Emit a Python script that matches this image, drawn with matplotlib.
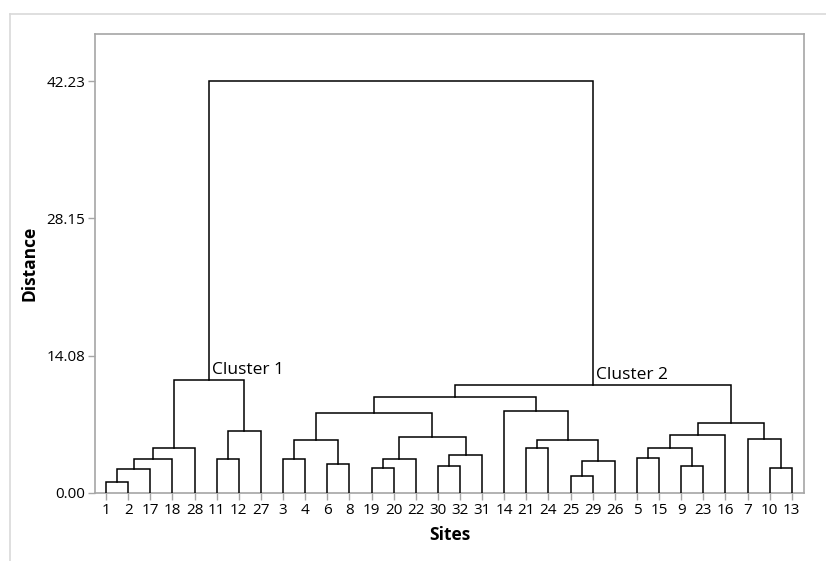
import matplotlib.pyplot as plt
from matplotlib.lines import Line2D

plt.rcParams['font.family'] = ['Open Sans', 'DejaVu Sans']

# ─── DATA ─────────────────────────────────────────────────────────────────────
SITES = [1, 2, 17, 18, 28, 11, 12, 27, 3, 4, 6, 8, 19, 20, 22, 30, 32, 31,
         14, 21, 24, 25, 29, 26, 5, 15, 9, 23, 16, 7, 10, 13]

# merge k joins MERGE_A[k] and MERGE_B[k] (site number, or 'mN' = earlier merge)
MERGE_A = [1, 'm0', 'm1', 'm2', 11, 'm4', 'm3',
           3, 6, 'm7', 19, 'm10', 30, 'm12', 'm11', 'm9',
           21, 25, 'm17', 'm16', 14, 'm15',
           5, 9, 'm22', 'm24', 10, 7, 'm25', 'm21', 'm6']
MERGE_B = [2, 17, 18, 28, 12, 27, 'm5',
           4, 8, 'm8', 20, 22, 32, 31, 'm13', 'm14',
           24, 29, 26, 'm18', 'm19', 'm20',
           15, 23, 'm23', 16, 13, 'm26', 'm27', 'm28', 'm29']
MERGE_DIST = [1.10, 2.46, 3.49, 4.64, 3.49, 6.32, 11.61,
              3.49, 3.00, 5.43, 2.59, 3.49, 2.74, 3.93, 5.71, 8.23,
              4.64, 1.71, 3.31, 5.40, 8.40, 9.84,
              3.62, 2.74, 4.64, 5.98, 2.59, 5.57, 7.21, 11.10, 42.23]

CLUSTER_NAMES = {'m6': 'Cluster 1', 'm29': 'Cluster 2'}
Y_TICKS = [0.00, 14.08, 28.15, 42.23]

# ─── STYLE ────────────────────────────────────────────────────────────────────
FRAME_COLOR = '#a6a6a6'
LINE_COLOR = 'black'

fig = plt.figure(figsize=(8.26, 5.61), dpi=100)
ax = fig.add_axes([95 / 826, 1 - 493 / 561, (804 - 95) / 826, (493 - 34) / 561])

# leaf positions, then node positions
pos = {s: (i + 1, 0.0) for i, s in enumerate(SITES)}
for k, (a, b, d) in enumerate(zip(MERGE_A, MERGE_B, MERGE_DIST)):
    xa, ha = pos[a]
    xb, hb = pos[b]
    ax.plot([xa, xa, xb, xb], [ha, d, d, hb], color=LINE_COLOR,
            linewidth=1.1, solid_joinstyle='miter', zorder=3)
    pos[f'm{k}'] = ((xa + xb) / 2, d)

for key, name in CLUSTER_NAMES.items():
    x, h = pos[key]
    ax.text(x + 0.15, h + 0.2, name, fontsize=12.5, ha='left', va='bottom')

ax.set_xlim(0.5, len(SITES) + 0.55)
ax.set_ylim(0, 47.05)
ax.set_xticks(range(1, len(SITES) + 1))
ax.set_xticklabels([str(s) for s in SITES])
ax.set_yticks(Y_TICKS)
ax.set_yticklabels([f'{v:.2f}' for v in Y_TICKS])
ax.tick_params(axis='both', colors=FRAME_COLOR, labelcolor='black',
               labelsize=11, length=5, width=1.0, pad=2)

for sp in ax.spines.values():
    sp.set_color(FRAME_COLOR)
    sp.set_linewidth(1.2)

ax.set_xlabel('Sites', fontsize=12.5, fontweight='bold', labelpad=6)
ax.set_ylabel('Distance', fontsize=12.5, fontweight='bold', labelpad=6)

# light outer frame (top and left edges visible)
x0, y0 = 10 / 826, 1 - 14 / 561
fig.add_artist(Line2D([x0, 1.0], [y0, y0], transform=fig.transFigure,
                      color='#d9d9d9', linewidth=1.2))
fig.add_artist(Line2D([x0, x0], [0.0, y0], transform=fig.transFigure,
                      color='#d9d9d9', linewidth=1.2))

fig.savefig('out.png', dpi=100)
